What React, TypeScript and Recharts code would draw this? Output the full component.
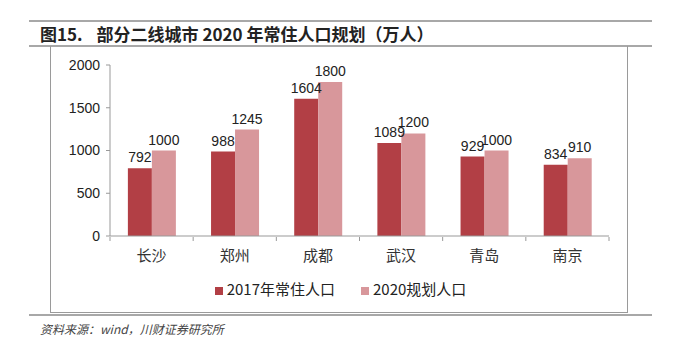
import { BarChart, Bar, XAxis, YAxis, Legend, LabelList } from 'recharts'

const cities = ['长沙', '郑州', '成都', '武汉', '青岛', '南京']
const pop2017 = [792, 988, 1604, 1089, 929, 834]
const plan2020 = [1000, 1245, 1800, 1200, 1000, 910]
const yTicks = [0, 500, 1000, 1500, 2000]

const data = cities.map((city, i) => ({ city, pop2017: pop2017[i], plan2020: plan2020[i] }))

const DARK = '#b23f45'
const LIGHT = '#d8979b'
const RULE = '#a8a8a8'
const NUM_FONT = '"Liberation Sans", Arial, sans-serif'
const CJK_FONT = '"Noto Sans CJK SC", sans-serif'

// category tick with boundary tick marks like Excel
function CityTick(props: any) {
  const { x, y, payload, index, visibleTicksCount } = props
  const half = 499 / cities.length / 2
  const axisY = y - 7
  return (
    <g>
      <line x1={x - half} x2={x - half} y1={axisY} y2={axisY + 4} stroke="#999" />
      {index === visibleTicksCount - 1 && (
        <line x1={x + half} x2={x + half} y1={axisY} y2={axisY + 4} stroke="#999" />
      )}
      <text x={x} y={y + 17} textAnchor="middle" fontSize={15} fill="#333" fontFamily={CJK_FONT}>
        {payload.value}
      </text>
    </g>
  )
}

export default function App() {
  return (
    <div style={{ position: 'absolute', left: 0, top: 0, width: 685, height: 351, background: '#fff', overflow: 'hidden' }}>
      <div style={{ position: 'absolute', left: 29, top: 20, width: 623, height: 2, background: RULE }} />
      <div
        style={{
          position: 'absolute', left: 40, top: 22, fontFamily: CJK_FONT, fontWeight: 700,
          fontSize: 17, color: '#222', whiteSpace: 'nowrap', lineHeight: '23px',
        }}
      >
        <span>图15.</span>
        <span style={{ marginLeft: 14 }}>部分二线城市 2020 年常住人口规划（万人）</span>
      </div>
      <div style={{ position: 'absolute', left: 29, top: 45, width: 623, height: 2, background: RULE }} />
      <div style={{ position: 'absolute', left: 50, top: 46, width: 576, height: 266, border: '1px solid #9a9a9a', borderTop: 'none' }} />
      <div style={{ position: 'absolute', left: 29, top: 314, width: 623, height: 2, background: RULE }} />
      <div
        style={{
          position: 'absolute', left: 40, top: 320, fontFamily: CJK_FONT, fontStyle: 'italic',
          fontSize: 12, color: '#444', whiteSpace: 'nowrap',
        }}
      >
        资料来源：wind，川财证券研究所
      </div>
      <div style={{ position: 'absolute', left: 50, top: 46 }}>
        <BarChart
          width={577}
          height={267}
          data={data}
          margin={{ top: 19, right: 18, bottom: 26, left: 0 }}
          barCategoryGap="21.5%"
          barGap={0}
        >
          <XAxis
            dataKey="city"
            axisLine={{ stroke: '#999' }}
            tickLine={false}
            height={30}
            interval={0}
            tick={<CityTick />}
          />
          <YAxis
            width={60}
            domain={[0, 2000]}
            ticks={yTicks}
            axisLine={{ stroke: '#999' }}
            tickLine={{ stroke: '#999' }}
            tickSize={4}
            tickMargin={6}
            tick={{ fontSize: 14, fill: '#222', fontFamily: NUM_FONT }}
          />
          <Legend
            verticalAlign="bottom"
            align="center"
            iconType="square"
            iconSize={8}
            wrapperStyle={{ bottom: 14, left: 24, fontFamily: CJK_FONT, fontSize: 15 }}
            formatter={(value: string) => <span style={{ color: '#222', marginRight: 16 }}>{value}</span>}
          />
          <Bar dataKey="pop2017" name="2017年常住人口" fill={DARK} isAnimationActive={false}>
            <LabelList dataKey="pop2017" position="top" offset={6} fontSize={14} fill="#222" fontFamily={NUM_FONT} />
          </Bar>
          <Bar dataKey="plan2020" name="2020规划人口" fill={LIGHT} isAnimationActive={false}>
            <LabelList dataKey="plan2020" position="top" offset={6} fontSize={14} fill="#222" fontFamily={NUM_FONT} />
          </Bar>
        </BarChart>
      </div>
    </div>
  )
}
